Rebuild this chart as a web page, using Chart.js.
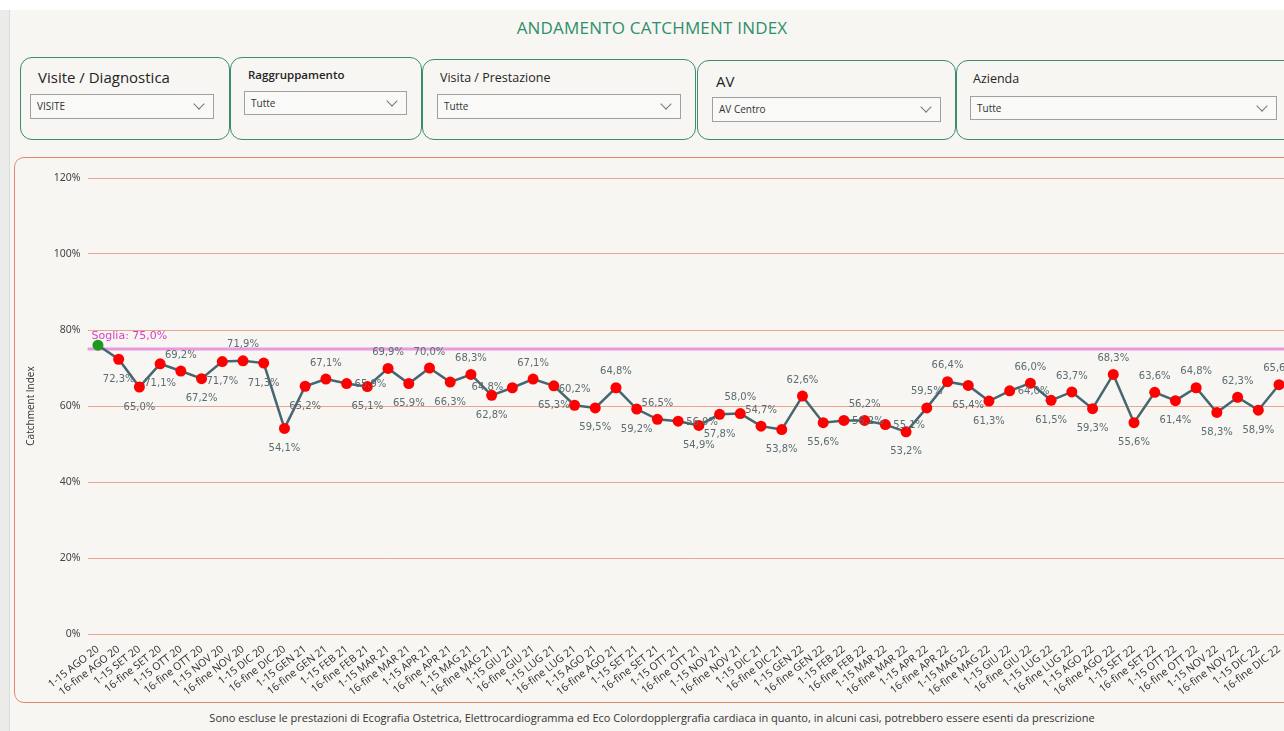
<!DOCTYPE html>
<html lang="it">
<head>
<meta charset="utf-8">
<title>Andamento Catchment Index</title>
<script src="https://cdn.jsdelivr.net/npm/chart.js@4/dist/chart.umd.min.js"></script>
<style>
  html, body { margin: 0; padding: 0; }
  body {
    width: 1284px; height: 731px; overflow: hidden; position: relative;
    background: #f7f6f2; font-family: "Open Sans", "Noto Sans", sans-serif;
  }
  .topstrip { position: absolute; left: 0; top: 0; width: 1284px; height: 10px; background: #ffffff; }
  .leftstrip { position: absolute; left: 0; top: 10px; width: 9px; height: 721px; background: #ebebea; border-right: 1px solid #dcdcdc; }
  .title {
    position: absolute; left: 0; top: 16px; width: 1304px; text-align: center;
    font-size: 17px; color: #2f8f6c; letter-spacing: 0.2px;
  }
  .filter {
    position: absolute; border: 1.5px solid #3c8c70; border-radius: 12px; box-sizing: border-box;
  }
  .filter .lbl { position: absolute; color: #252525; white-space: nowrap; }
  .filter .dd {
    position: absolute; border: 1px solid #a0a0a0; box-sizing: border-box; background: #f9f9f7;
    font-size: 10px; color: #333; line-height: 22px; padding-left: 6px;
  }
  .dd::after {
    content: ""; position: absolute; right: 10px; top: 5px; width: 7px; height: 7px;
    border-right: 1px solid #777; border-bottom: 1px solid #777; transform: rotate(45deg);
  }
  .panel {
    position: absolute; left: 14px; top: 157px; width: 1300px; height: 546px;
    border: 1px solid #e3876c; border-radius: 10px; box-sizing: border-box;
  }
  .chartbox { position: absolute; left: 14px; top: 160px; width: 1290px; height: 540px; }
  .footer {
    position: absolute; left: 0; top: 710px; width: 1304px; text-align: center;
    font-size: 11px; color: #333;
  }
</style>
</head>
<body>
<div class="topstrip"></div>
<div class="leftstrip"></div>
<div class="title">ANDAMENTO CATCHMENT INDEX</div>

<div class="filter" style="left:20px;top:57px;width:210px;height:83px;">
  <div class="lbl" style="left:17px;top:9px;font-size:15px;">Visite / Diagnostica</div>
  <div class="dd" style="left:9px;top:36px;width:184px;height:25px;">VISITE</div>
</div>
<div class="filter" style="left:230px;top:57px;width:192px;height:83px;">
  <div class="lbl" style="left:17px;top:9px;font-size:11.5px;font-weight:600;">Raggruppamento</div>
  <div class="dd" style="left:13px;top:33px;width:163px;height:24px;">Tutte</div>
</div>
<div class="filter" style="left:422px;top:59px;width:274px;height:81px;">
  <div class="lbl" style="left:17px;top:9px;font-size:12.5px;">Visita / Prestazione</div>
  <div class="dd" style="left:14px;top:34px;width:244px;height:25px;">Tutte</div>
</div>
<div class="filter" style="left:697px;top:60px;width:259px;height:80px;">
  <div class="lbl" style="left:18px;top:10px;font-size:15px;">AV</div>
  <div class="dd" style="left:14px;top:36px;width:229px;height:25px;">AV Centro</div>
</div>
<div class="filter" style="left:956px;top:60px;width:340px;height:80px;">
  <div class="lbl" style="left:16px;top:9px;font-size:12.5px;">Azienda</div>
  <div class="dd" style="left:13px;top:35px;width:307px;height:24px;">Tutte</div>
</div>

<div class="panel"></div>
<div class="chartbox"><canvas id="catchmentChart"></canvas></div>

<div class="footer">Sono escluse le prestazioni di Ecografia Ostetrica, Elettrocardiogramma ed Eco Colordopplergrafia cardiaca in quanto, in alcuni casi, potrebbero essere esenti da prescrizione</div>

<script>
// Periodi (quindicine) e valori del Catchment Index (%)
const months = ['AGO 20', 'SET 20', 'OTT 20', 'NOV 20', 'DIC 20',
    'GEN 21', 'FEB 21', 'MAR 21', 'APR 21', 'MAG 21', 'GIU 21', 'LUG 21', 'AGO 21', 'SET 21', 'OTT 21', 'NOV 21', 'DIC 21',
    'GEN 22', 'FEB 22', 'MAR 22', 'APR 22', 'MAG 22', 'GIU 22', 'LUG 22', 'AGO 22', 'SET 22', 'OTT 22', 'NOV 22', 'DIC 22'];
const halves = ['1-15', '16-fine'];
const periodLabels = months.flatMap(m => halves.map(h => h + ' ' + m));

const catchmentValues = [
    76.0, 72.3, 65.0, 71.1, 69.2, 67.2, 71.7, 71.9, 71.3, 54.1,
    65.2, 67.1, 65.9, 65.1, 69.9, 65.9, 70.0, 66.3, 68.3, 62.8,
    64.8, 67.1, 65.3, 60.2, 59.5, 64.8, 59.2, 56.5, 56.0, 54.9,
    57.8, 58.0, 54.7, 53.8, 62.6, 55.6, 56.2, 56.2, 55.1, 53.2,
    59.5, 66.4, 65.4, 61.3, 64.0, 66.0, 61.5, 63.7, 59.3, 68.3,
    55.6, 63.6, 61.4, 64.8, 58.3, 62.3, 58.9, 65.6
];

const soglia = 75.0;
const yTicks = [0, 20, 40, 60, 80, 100, 120];

// placement of each value label: a = above, b = below, r = right, l = left, n = none
const labelPlacement = ('nbbbabbabb' + 'barbababab' +
                        'labababarb' + 'baababrarb' +
                        'aabbrababa' + 'babababa').split('');

const fmt = v => v.toFixed(1).replace('.', ',') + '%';

const sogliaPlugin = {
    id: 'sogliaLine',
    beforeDatasetsDraw(chart) {
        const { ctx, chartArea, scales } = chart;
        const y = scales.y.getPixelForValue(soglia);
        ctx.save();
        ctx.strokeStyle = '#e79adf';
        ctx.lineWidth = 3;
        ctx.beginPath();
        ctx.moveTo(chartArea.left, y);
        ctx.lineTo(chartArea.right, y);
        ctx.stroke();
        ctx.fillStyle = '#d53fc6';
        ctx.font = '11px "DejaVu Sans", sans-serif';
        ctx.textAlign = 'left';
        ctx.textBaseline = 'middle';
        ctx.fillText('Soglia: ' + fmt(soglia), chartArea.left + 4, y - 13);
        ctx.restore();
    }
};

const valueLabelPlugin = {
    id: 'valueLabels',
    afterDatasetsDraw(chart) {
        const { ctx } = chart;
        const meta = chart.getDatasetMeta(0);
        ctx.save();
        ctx.fillStyle = '#5b6c73';
        ctx.font = '10px "DejaVu Sans", sans-serif';
        ctx.textBaseline = 'middle';
        meta.data.forEach((pt, i) => {
            const pos = labelPlacement[i] || 'b';
            if (pos === 'n') return;
            const txt = fmt(catchmentValues[i]);
            let x = pt.x, y = pt.y;
            ctx.textAlign = 'center';
            if (pos === 'a') y -= 16;
            else if (pos === 'b') y += 20;
            else if (pos === 'r') { ctx.textAlign = 'left'; x += 8; y += 1; }
            else if (pos === 'l') { ctx.textAlign = 'right'; x -= 9; }
            ctx.fillText(txt, x, y);
        });
        ctx.restore();
    }
};

const ctx = document.getElementById('catchmentChart');
new Chart(ctx, {
    type: 'line',
    data: {
        labels: periodLabels,
        datasets: [{
            label: 'Catchment Index',
            data: catchmentValues,
            borderColor: '#466670',
            borderWidth: 2.5,
            tension: 0,
            fill: false,
            pointRadius: 5.5,
            pointBorderWidth: 0,
            pointBackgroundColor: c => c.dataIndex === 0 ? '#1d9a1d' : '#ff0000'
        }]
    },
    options: {
        responsive: true,
        maintainAspectRatio: false,
        animation: false,
        layout: { padding: { top: 18, right: 14.6, left: 0, bottom: 0 } },
        plugins: {
            legend: { display: false },
            tooltip: { enabled: false }
        },
        scales: {
            x: {
                offset: true,
                grid: { display: false },
                border: { display: false },
                ticks: {
                    autoSkip: false,
                    maxRotation: 38,
                    minRotation: 38,
                    padding: 1,
                    color: '#2b2b2b',
                    font: { family: '"Open Sans", sans-serif', size: 10.5 }
                },
                afterFit(scale) { scale.height = 66; }
            },
            y: {
                min: 0,
                max: 120,
                afterBuildTicks(scale) { scale.ticks = yTicks.map(v => ({ value: v })); },
                grid: { color: '#eba58f', lineWidth: 1, drawTicks: false },
                border: { display: false },
                ticks: {
                    padding: 7,
                    color: '#444',
                    font: { family: '"Noto Sans", sans-serif', size: 10.5 },
                    callback: v => v + '%'
                },
                title: {
                    display: true,
                    text: 'Catchment Index',
                    color: '#333',
                    padding: { top: 11, bottom: 0 },
                    font: { family: '"Open Sans", sans-serif', size: 10 }
                },
                afterFit(scale) { scale.width = 73.6; }
            }
        }
    },
    plugins: [sogliaPlugin, valueLabelPlugin]
});
</script>
</body>
</html>
